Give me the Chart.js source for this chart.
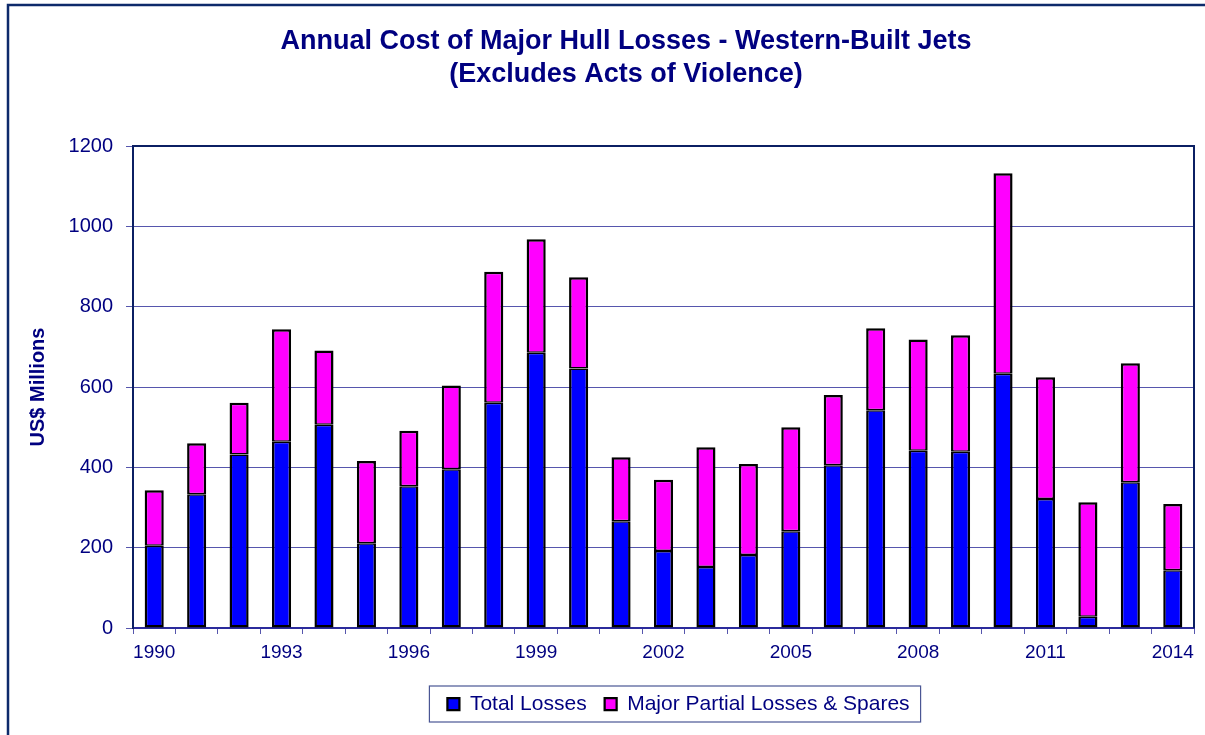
<!DOCTYPE html>
<html>
<head>
<meta charset="utf-8">
<title>Annual Cost of Major Hull Losses</title>
<script src="https://cdn.jsdelivr.net/npm/chart.js@4.4.1/dist/chart.umd.min.js"></script>
<style>
  html, body { margin: 0; padding: 0; background: #fff; overflow: hidden; }
  #wrap { width: 1242px; height: 735px; }
</style>
</head>
<body>
<div id="wrap"><canvas id="my-chart" width="1242" height="735"></canvas></div>
<script>
const years = ["1990", "1991", "1992", "1993", "1994", "1995", "1996", "1997", "1998", "1999",
  "2000", "2001", "2002", "2003", "2004", "2005", "2006", "2007", "2008", "2009",
  "2010", "2011", "2012", "2013", "2014"];
const totalLosses = [205, 333, 432, 464, 506, 211, 353, 395, 561, 685,
  646, 266, 192, 152, 182, 241, 405, 542, 441, 439,
  633, 321, 28, 363, 144];
const partialLosses = [138, 127, 129, 280, 185, 205, 138, 209, 326, 283,
  227, 159, 177, 298, 226, 259, 175, 204, 277, 290,
  499, 303, 285, 296, 165];
const shownYears = ["1990", "1993", "1996", "1999", "2002", "2005", "2008", "2011", "2014"];
const yMax = 1200;
const yStep = 200;

const navy = "#000080";
const gridBlue = "#5656ad";
const fontFamily = "'Liberation Sans', Arial, sans-serif";

// outer frame, plot frame (top + right) and the legend box
const framePlugin = {
  id: "frames",
  afterLayout(chart) {
    // the legend sits a little right of the plot centre in the original
    chart.legend.left += 15;
    chart.legend.right += 15;
  },
  beforeDraw(chart) {
    const ctx = chart.ctx;
    ctx.save();
    ctx.strokeStyle = "#0d2a6b";
    ctx.lineWidth = 2.5;
    ctx.beginPath();
    ctx.moveTo(8, chart.height);
    ctx.lineTo(8, 5);
    ctx.lineTo(chart.width, 5);
    ctx.stroke();
    ctx.restore();
  },
  afterDraw(chart) {
    const ctx = chart.ctx;
    const area = chart.chartArea;
    ctx.save();
    ctx.strokeStyle = "#0b1f63";
    ctx.lineWidth = 2;
    ctx.beginPath();
    ctx.moveTo(area.left, area.top);
    ctx.lineTo(area.right, area.top);
    ctx.lineTo(area.right, area.bottom);
    ctx.stroke();

    const boxes = chart.legend.legendHitBoxes;
    if (boxes && boxes.length) {
      const first = boxes[0];
      const last = boxes[boxes.length - 1];
      const mid = first.top + first.height / 2;
      ctx.strokeStyle = "#4a5694";
      ctx.lineWidth = 1.2;
      ctx.strokeRect(first.left - 18, mid - 18, last.left + last.width + 11 - (first.left - 18), 36);
    }
    ctx.restore();
  }
};

const ctx = document.getElementById("my-chart").getContext("2d");
const chart = new Chart(ctx, {
  type: "bar",
  data: {
    labels: years,
    datasets: [
      {
        label: "Total Losses",
        data: totalLosses,
        backgroundColor: "#0000ff",
        borderColor: "#000000",
        borderWidth: { top: 1.5, left: 2.5, right: 2.5, bottom: 2.5 },
        borderSkipped: false,
        barPercentage: 0.45,
        categoryPercentage: 1.0,
      },
      {
        label: "Major Partial Losses & Spares",
        data: partialLosses,
        backgroundColor: "#ff00ff",
        borderColor: "#000000",
        borderWidth: { top: 2.5, left: 2.5, right: 2.5, bottom: 1.5 },
        borderSkipped: false,
        barPercentage: 0.45,
        categoryPercentage: 1.0,
      },
    ],
  },
  options: {
    responsive: false,
    animation: false,
    layout: { padding: { left: 10, right: 0, top: 0, bottom: 10.5 } },
    plugins: {
      title: {
        display: true,
        text: ["Annual Cost of Major Hull Losses - Western-Built Jets", "(Excludes Acts of Violence)"],
        color: navy,
        font: { family: fontFamily, size: 27, weight: "bold", lineHeight: 1.2 },
        padding: { top: 25.8, bottom: 55.4 },
      },
      legend: {
        position: "bottom",
        fullSize: false,
        labels: {
          color: navy,
          font: { family: fontFamily, size: 21 },
          boxWidth: 12,
          boxHeight: 12,
          padding: 18,
        },
      },
      tooltip: { enabled: false },
    },
    scales: {
      x: {
        stacked: true,
        grid: {
          display: true,
          offset: true,
          drawOnChartArea: false,
          drawTicks: true,
          tickLength: 6,
          color: gridBlue,
        },
        border: { color: "#2b2b9c", width: 2 },
        ticks: {
          color: navy,
          font: { family: fontFamily, size: 19 },
          autoSkip: false,
          maxRotation: 0,
          padding: 7,
          callback: function (value) {
            const label = this.getLabelForValue(value);
            return shownYears.includes(label) ? label : "";
          },
        },
        afterFit: (scale) => { scale.height = 47.5; },
      },
      y: {
        stacked: true,
        min: 0,
        max: yMax,
        grid: { color: gridBlue, lineWidth: 1, tickLength: 7 },
        border: { color: "#0b1f63", width: 2 },
        ticks: {
          stepSize: yStep,
          color: navy,
          padding: 13,
          font: { family: fontFamily, size: 20 },
          callback: (value) => String(value),
        },
        title: {
          display: true,
          text: "US$ Millions",
          color: navy,
          font: { family: fontFamily, size: 20, weight: "bold" },
          padding: { top: 16, bottom: 0 },
        },
        afterFit: (scale) => { scale.width = 123; },
      },
      // empty right axis, keeps the plot narrower than the title row
      y2: {
        position: "right",
        display: true,
        grid: { display: false },
        border: { display: false },
        ticks: { display: false },
        afterFit: (scale) => { scale.width = 48; },
      },
    },
  },
  plugins: [framePlugin],
});
</script>
</body>
</html>
